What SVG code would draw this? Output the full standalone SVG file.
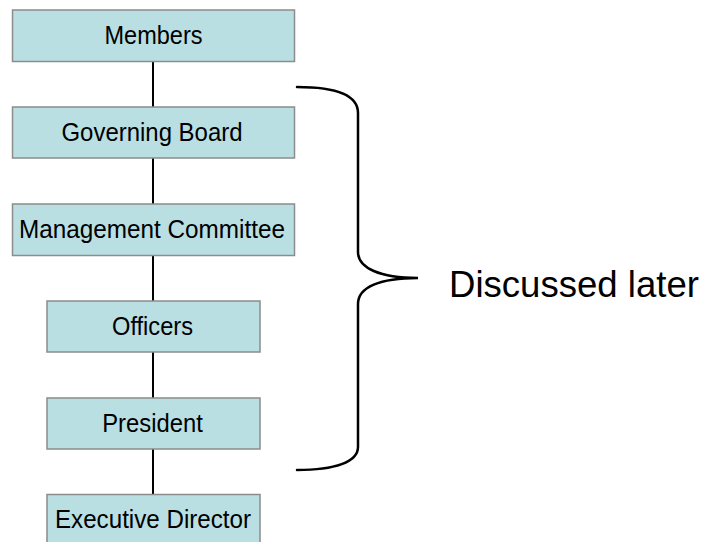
<svg xmlns="http://www.w3.org/2000/svg" width="707" height="542" viewBox="0 0 707 542">
<style>
.box{fill:#B9DFE2;stroke:#8C8C8C;stroke-width:1.5}
.lbl{font-family:"Liberation Sans",Arial,sans-serif;font-size:26px;fill:#000;text-anchor:middle}
.conn{stroke:#000;stroke-width:2;fill:none}
.brace{stroke:#000;stroke-width:2.5;fill:none;stroke-linecap:round}
</style>
<rect width="707" height="542" fill="#fff"/>
<g id="connectors">
<line class="conn" x1="153" y1="61.5" x2="153" y2="107"/>
<line class="conn" x1="153" y1="158" x2="153" y2="204"/>
<line class="conn" x1="153" y1="255.5" x2="153" y2="301"/>
<line class="conn" x1="153" y1="352" x2="153" y2="398"/>
<line class="conn" x1="153" y1="449" x2="153" y2="494.5"/>
</g>
<g id="members"><rect class="box" x="12.5" y="10" width="282" height="51.5"/><text class="lbl" x="153.5" y="43.5" textLength="98" lengthAdjust="spacingAndGlyphs">Members</text></g>
<g id="governing-board"><rect class="box" x="12.5" y="107" width="282" height="51"/><text class="lbl" x="152" y="141" textLength="181" lengthAdjust="spacingAndGlyphs">Governing Board</text></g>
<g id="management-committee"><rect class="box" x="12.5" y="204" width="282" height="51.5"/><text class="lbl" x="152" y="238.3" textLength="266" lengthAdjust="spacingAndGlyphs">Management Committee</text></g>
<g id="officers"><rect class="box" x="47" y="301" width="213" height="51"/><text class="lbl" x="152.5" y="335" textLength="81" lengthAdjust="spacingAndGlyphs">Officers</text></g>
<g id="president"><rect class="box" x="47" y="398" width="213" height="51"/><text class="lbl" x="152.5" y="431.5" textLength="100.5" lengthAdjust="spacingAndGlyphs">President</text></g>
<g id="executive-director"><rect class="box" x="47" y="494.5" width="213" height="51"/><text class="lbl" x="153" y="527.7" textLength="196" lengthAdjust="spacingAndGlyphs">Executive Director</text></g>
<g id="brace">
<path class="brace" d="M297,87 C335,87 358,95 358,113 L358,252 C358,268 380,278 418,278 C380,278 358,287 358,304 L358,447 C358,462 335,470 297,470"/>
<text x="449" y="297" font-family="'Liberation Sans',Arial,sans-serif" font-size="37" fill="#000" textLength="250" lengthAdjust="spacingAndGlyphs">Discussed later</text>
</g>
</svg>
